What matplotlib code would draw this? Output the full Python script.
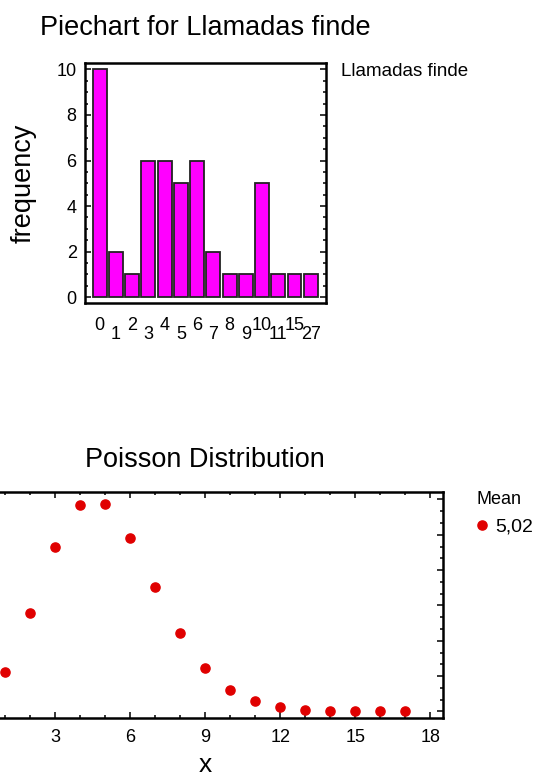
import matplotlib
matplotlib.use('Agg')
import matplotlib.pyplot as plt
from matplotlib.ticker import MultipleLocator, FuncFormatter

plt.rcParams['font.family'] = ['Liberation Sans', 'DejaVu Sans']

# frequency table of "Llamadas finde"
llamadas = ['0', '1', '2', '3', '4', '5', '6', '7', '8', '9', '10', '11', '15', '27']
frecuencia = [10, 2, 1, 6, 6, 5, 6, 2, 1, 1, 5, 1, 1, 1]

# fitted Poisson probabilities (mean 5,02)
x_vals = [0, 1, 2, 3, 4, 5, 6, 7, 8, 9, 10, 11, 12, 13, 14, 15, 16, 17]
prob = [0.0066, 0.0332, 0.0834, 0.1395, 0.1751, 0.1758, 0.1471, 0.1055, 0.0662,
        0.0369, 0.0185, 0.0085, 0.0035, 0.0014, 0.0005, 0.0002, 0.0001, 0.0000]
media = '5,02'

W, H = 535, 776
fig = plt.figure(figsize=(W / 100, H / 100), dpi=100)

# --- top: bar chart ---
ax1 = fig.add_axes([85 / W, 1 - 302.7 / H, 240.5 / W, 239.7 / H])
pos = list(range(len(llamadas)))
ax1.bar(pos, frecuencia, width=0.86, color='#FF00FF', edgecolor='#222222', linewidth=1.3)
ax1.set_xlim(-0.91, 13.91)
ax1.set_ylim(-0.24, 10.28)
ax1.set_xticks(pos)
ax1.set_xticklabels(llamadas, fontsize=13)
ax1.yaxis.set_major_locator(MultipleLocator(2))
ax1.yaxis.set_minor_locator(MultipleLocator(0.5))
ax1.tick_params(axis='y', which='both', direction='in', left=True, right=True, width=1.1)
ax1.tick_params(axis='y', which='major', length=4.5, labelsize=13, pad=6)
ax1.tick_params(axis='y', which='minor', length=2.5)
ax1.tick_params(axis='x', length=0)
for i, t in enumerate(ax1.xaxis.get_major_ticks()):
    t.set_pad(10 if i % 2 == 0 else 17)
for s in ax1.spines.values():
    s.set_linewidth(1.8)
ax1.set_title('Piechart for Llamadas finde', fontsize=19.5, pad=20)
ax1.set_ylabel('frequency', fontsize=19.5)
ax1.yaxis.set_label_coords(-0.2, 0.5)
fig.text(341 / W, 1 - 71.7 / H, 'Llamadas finde', fontsize=13.5, va='center', ha='left')

# --- bottom: Poisson distribution ---
ax2 = fig.add_axes([-32.5 / W, 1 - 718.3 / H, 475.2 / W, 226 / H])
ax2.plot(x_vals, prob, linestyle='none', marker='o', markersize=6.6,
         color='#E00000', label=media)
ax2.set_xlim(-0.5, 18.5)
ax2.set_ylim(-0.0058, 0.186)
ax2.xaxis.set_major_locator(MultipleLocator(3))
ax2.xaxis.set_minor_locator(MultipleLocator(1))
ax2.xaxis.set_major_formatter(FuncFormatter(lambda v, p: '' if v < 1 else f'{v:g}'))
ax2.yaxis.set_major_locator(MultipleLocator(0.03))
ax2.yaxis.set_minor_locator(MultipleLocator(0.01))
ax2.tick_params(which='both', direction='in', top=True, right=True, width=1.1)
ax2.tick_params(which='major', length=4.5, labelsize=13, pad=8)
ax2.tick_params(which='minor', length=2.5)
ax2.tick_params(axis='y', labelleft=False)
for s in ax2.spines.values():
    s.set_linewidth(1.8)
ax2.set_title('Poisson Distribution', fontsize=19.5, pad=18)
ax2.set_xlabel('x', fontsize=19)
ax2.xaxis.set_label_coords(0.5, -0.155)

leg = ax2.legend(loc='upper left', bbox_to_anchor=(476 / W, 1 - 491 / H),
                 bbox_transform=fig.transFigure, frameon=False, title='Mean',
                 fontsize=14, title_fontsize=13, alignment='left',
                 handlelength=0.6, handletextpad=0.4, borderpad=0, borderaxespad=0)

fig.savefig('out.png', dpi=100)
